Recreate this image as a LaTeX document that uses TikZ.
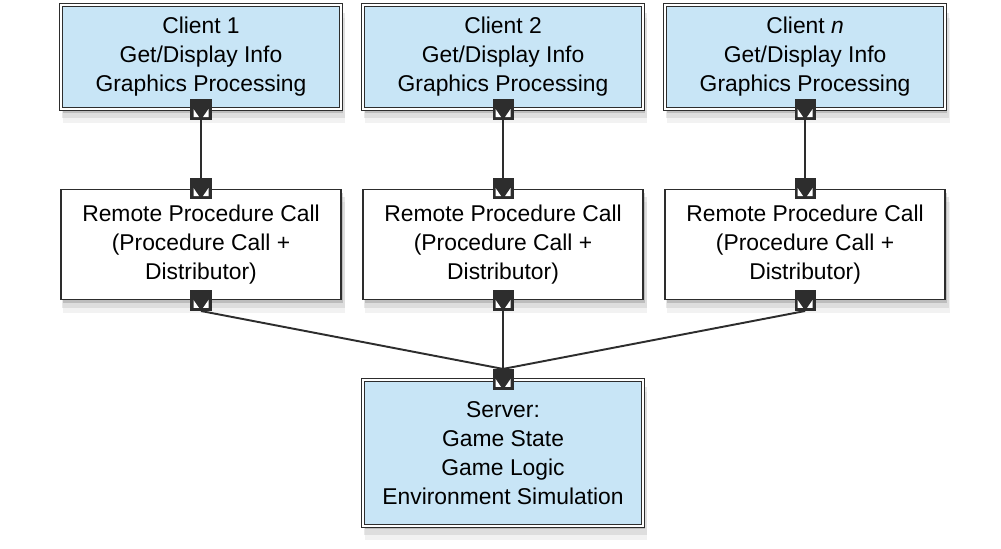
\documentclass[tikz,border=0pt]{standalone}
\usepackage{fontspec}
\setmainfont{Liberation Sans}
\usepackage{xcolor}
\usepackage{tikz}
\usetikzlibrary{positioning,shadows}
\definecolor{clientblue}{RGB}{200,229,246}
\definecolor{edgegray}{RGB}{45,45,45}
\begin{document}
\begin{tikzpicture}[
				every node/.style={font=\fontsize{13}{16.5}\selectfont},
				shade/.style={
					drop shadow={shadow xshift=0.06cm, shadow yshift=-0.26cm, shadow scale=1.01, opacity=0.1},
					drop shadow={shadow xshift=0.05cm, shadow yshift=-0.16cm, shadow scale=1.01, opacity=0.18},
					drop shadow={shadow xshift=0.03cm, shadow yshift=-0.07cm, opacity=0.35},
				},
				client/.style={
					shade, draw=edgegray, line width=0.6pt, double=white, double distance=1.2pt,
					fill=clientblue, align=center, inner sep=0pt,
					minimum width=5.6cm, minimum height=2.08cm,
				},
				rpc/.style={
					shade, draw=edgegray, line width=1.1pt, fill=white, align=center,
					inner sep=0pt, minimum width=5.6cm, minimum height=2.2cm,
				},
				server/.style={
					client, minimum height=2.92cm,
				},
				port/.style={
					draw=edgegray, fill=edgegray, line width=0.6pt, inner sep=0pt,
					minimum size=0.4cm,
					path picture={
						\fill[white] ([shift={(0.05,0.01)}]path picture bounding box.west)
							-- ([shift={(0.05,0.05)}]path picture bounding box.south west)
							-- ([shift={(-0.04,0.05)}]path picture bounding box.south) -- cycle;
						\fill[white] ([shift={(-0.05,0.01)}]path picture bounding box.east)
							-- ([shift={(-0.05,0.05)}]path picture bounding box.south east)
							-- ([shift={(0.04,0.05)}]path picture bounding box.south) -- cycle;
					},
				},
				link/.style={draw=edgegray, line width=1.1pt},
				]
				\useasboundingbox (0,0) rectangle (20.02,-10.96);
				
				\node[client] (c1) at (4.02,-1.14) {Client 1\\Get/Display Info\\Graphics Processing};
				\node[client, right=0.42cm of c1] (c2) {Client 2\\Get/Display Info\\Graphics Processing};
				\node[client, right=0.42cm of c2] (cn) {Client \textit{n}\\Get/Display Info\\Graphics Processing};
				
				\node[rpc, below=1.58cm of c1] (r1) {Remote Procedure Call\\(Procedure Call +\\Distributor)};
				\node[rpc, below=1.58cm of c2] (r2) {Remote Procedure Call\\(Procedure Call +\\Distributor)};
				\node[rpc, below=1.58cm of cn] (rn) {Remote Procedure Call\\(Procedure Call +\\Distributor)};
				
				\node[server, below=1.58cm of r2] (srv)
				{Server:\\Game State\\Game Logic\\Environment Simulation};
				
				\node[port] (c1p) at (c1.south) {};
				\node[port] (c2p) at (c2.south) {};
				\node[port] (cnp) at (cn.south) {};
				\node[port] (r1t) at (r1.north) {};
				\node[port] (r2t) at (r2.north) {};
				\node[port] (rnt) at (rn.north) {};
				\node[port] (r1b) at (r1.south) {};
				\node[port] (r2b) at (r2.south) {};
				\node[port] (rnb) at (rn.south) {};
				\node[port] (srvp) at (srv.north) {};
				
				\draw[link] (c1p) -- (r1t);
				\draw[link] (c2p) -- (r2t);
				\draw[link] (cnp) -- (rnt);
				\draw[link] (r1b.south) -- (srvp.north);
				\draw[link] (r2b) -- (srvp);
				\draw[link] (rnb.south) -- (srvp.north);
			\end{tikzpicture}
\end{document}
